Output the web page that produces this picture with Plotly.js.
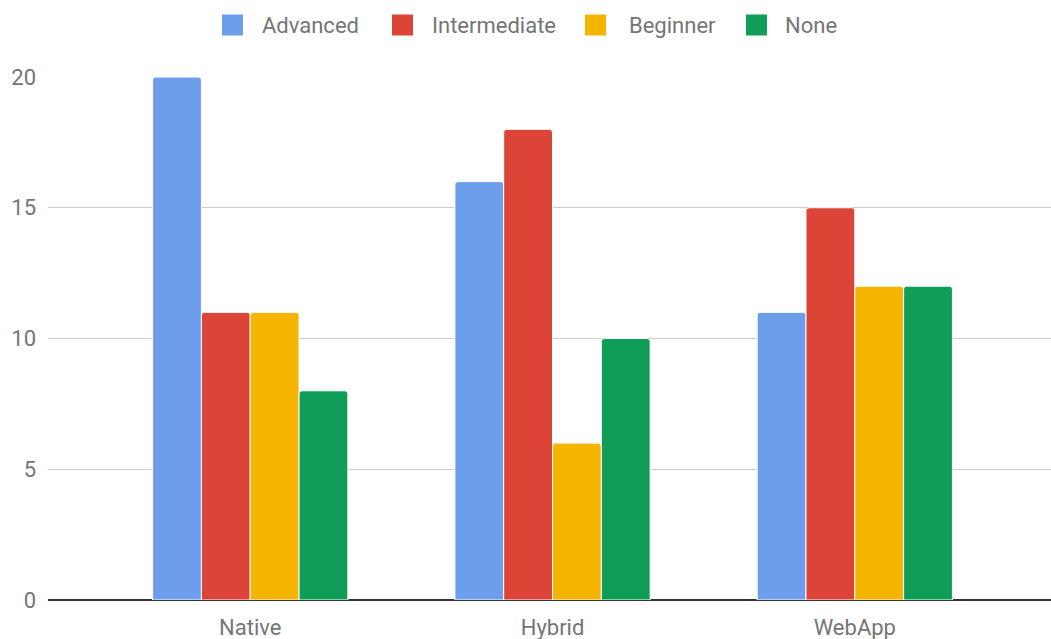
<!DOCTYPE html>
<html>
<head>
<meta charset="utf-8">
<script src="https://cdn.plot.ly/plotly-3.0.1.min.js"></script>
<style>html,body{margin:0;padding:0;background:#fff}#chart{width:1051px;height:639px}</style>
</head>
<body>
<div id="chart"></div>
<script>
const categories = ["Native", "Hybrid", "WebApp"];
const seriesNames = ["Advanced", "Intermediate", "Beginner", "None"];
const advanced = [20, 16, 11];
const intermediate = [11, 18, 15];
const beginner = [11, 6, 12];
const none = [8, 10, 12];
const yTicks = [0, 5, 10, 15, 20];

const colors = ["#6d9eeb", "#db4437", "#f4b400", "#0f9d58"];
const values = [advanced, intermediate, beginner, none];

const traces = values.map((v, i) => ({
  type: "bar",
  name: seriesNames[i],
  x: categories,
  y: v,
  marker: {color: colors[i], line: {color: "#ffffff", width: 1}, cornerradius: 3},
  hoverinfo: "x+y+name",
  showlegend: false
}));

// Manual legend (larger swatches like the reference)
const L = 48, W = 1003, T = 77, H = 523;
const px2x = p => (p - L) / W;
const py2y = p => (T + H - p) / H;
const legendSwatchX = [222, 392, 585, 746];
const legendTextX = [260, 430, 627, 783];
const sw = 21, legendCY = 25;
const shapes = [];
const annotations = [];
seriesNames.forEach((n, i) => {
  const x0 = legendSwatchX[i];
  shapes.push({type: "rect", xref: "paper", yref: "paper",
    x0: px2x(x0), x1: px2x(x0 + sw), y0: py2y(legendCY + sw / 2), y1: py2y(legendCY - sw / 2),
    fillcolor: colors[i], line: {width: 0}, layer: "above"});
  annotations.push({xref: "paper", yref: "paper", x: px2x(legendTextX[i]), y: py2y(legendCY),
    xanchor: "left", yanchor: "middle", text: n, showarrow: false,
    font: {size: 22, color: "#757575", family: "Roboto, Arial, sans-serif"}});
});

const layout = {
  width: 1051, height: 639,
  margin: {l: 48, r: 0, t: 77, b: 39},
  paper_bgcolor: "#ffffff", plot_bgcolor: "#ffffff",
  font: {family: "Roboto, Arial, sans-serif", color: "#757575", size: 22},
  barmode: "group",
  bargap: 0.354,
  bargroupgap: 0.0,
  showlegend: false,
  shapes: shapes,
  annotations: annotations,
  xaxis: {type: "category", range: [-0.669, 2.649], showgrid: false, zeroline: false,
          showline: false, ticks: "", ticklabelstandoff: 12,
          tickfont: {size: 22, color: "#757575"}, fixedrange: true},
  yaxis: {range: [0, 20], tickvals: yTicks, ticktext: yTicks.map(String), showgrid: true,
          gridcolor: "#cccccc", gridwidth: 1, zeroline: true, zerolinecolor: "#333333",
          zerolinewidth: 1.5, showline: false, ticks: "", ticklabelstandoff: 11,
          tickfont: {size: 22, color: "#757575"}, fixedrange: true}
};

Plotly.newPlot("chart", traces, layout, {displayModeBar: false, staticPlot: true});
</script>
</body>
</html>
